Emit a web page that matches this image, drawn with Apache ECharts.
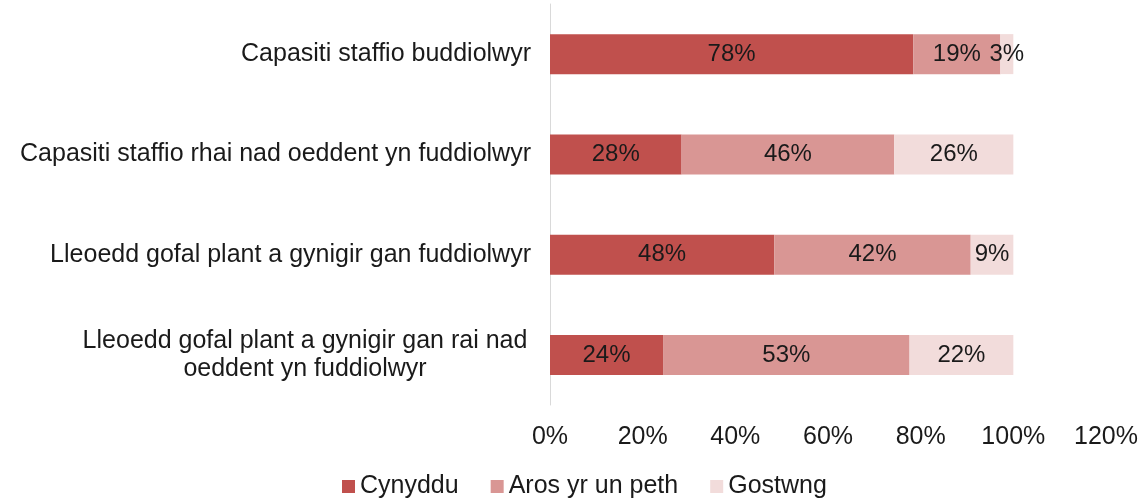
<!DOCTYPE html>
<html>
<head>
<meta charset="utf-8">
<script src="https://cdn.jsdelivr.net/npm/echarts@6/dist/echarts.min.js"></script>
<style>
  html, body { margin: 0; padding: 0; background: #fff; }
  #chart { width: 1147px; height: 499px; }
</style>
</head>
<body>
<div id="chart"></div>
<script>
const categories = [
    'Capasiti staffio buddiolwyr',
    'Capasiti staffio rhai nad oeddent yn fuddiolwyr',
    'Lleoedd gofal plant a gynigir gan fuddiolwyr',
    'Lleoedd gofal plant a gynigir gan rai nad\noeddent yn fuddiolwyr'
];
const seriesNames = ['Cynyddu', 'Aros yr un peth', 'Gostwng'];
// shares; labels show them rounded
const increase = [78.4, 28.4, 48.4, 24.4];
const same = [18.8, 45.9, 42.4, 53.2];
const decrease = [2.8, 25.7, 9.2, 22.4];
const xTicks = [0, 20, 40, 60, 80, 100, 120];

const colors = ['#c0504d', '#d99694', '#f2dcdb'];
const font = 'Liberation Sans, Arial, sans-serif';
const textColor = '#1a1a1a';

const makeSeries = (name, data, i) => ({
    name: name,
    type: 'bar',
    stack: 'total',
    data: data,
    barWidth: 40,
    itemStyle: { color: colors[i] },
    label: {
        show: true,
        position: 'inside',
        formatter: p => Math.round(p.value) + '%',
        color: textColor,
        fontFamily: font,
        fontSize: 24
    }
});

const chart = echarts.init(document.getElementById('chart'));
chart.setOption({
    animation: false,
    color: colors,
    grid: { left: 550, right: 41, top: 4, bottom: 94 },
    legend: {
        top: 474,
        left: 342,
        padding: 0,
        itemWidth: 13,
        itemHeight: 13,
        itemGap: 32,
        icon: 'rect',
        textStyle: { fontFamily: font, fontSize: 25, color: textColor },
        data: seriesNames
    },
    xAxis: {
        type: 'value',
        min: xTicks[0],
        max: xTicks[xTicks.length - 1],
        interval: 20,
        axisLine: { show: false },
        axisTick: { show: false },
        splitLine: { show: false },
        axisLabel: {
            formatter: '{value}%',
            margin: 20,
            color: textColor,
            fontFamily: font,
            fontSize: 25
        }
    },
    yAxis: {
        type: 'category',
        inverse: true,
        data: categories,
        axisLine: { show: true, lineStyle: { color: '#d9d9d9', width: 1 } },
        axisTick: { show: false },
        axisLabel: {
            margin: 19,
            color: textColor,
            fontFamily: font,
            fontSize: 25,
            lineHeight: 28,
            formatter: val => {
                if (val.indexOf('\n') < 0) return val;
                return val.split('\n').map(s => '{c|' + s + '}').join('\n');
            },
            rich: {
                c: {
                    width: 452,
                    align: 'center',
                    color: textColor,
                    fontFamily: font,
                    fontSize: 25,
                    lineHeight: 28
                }
            }
        }
    },
    series: [
        makeSeries(seriesNames[0], increase, 0),
        makeSeries(seriesNames[1], same, 1),
        makeSeries(seriesNames[2], decrease, 2)
    ]
});
</script>
</body>
</html>
